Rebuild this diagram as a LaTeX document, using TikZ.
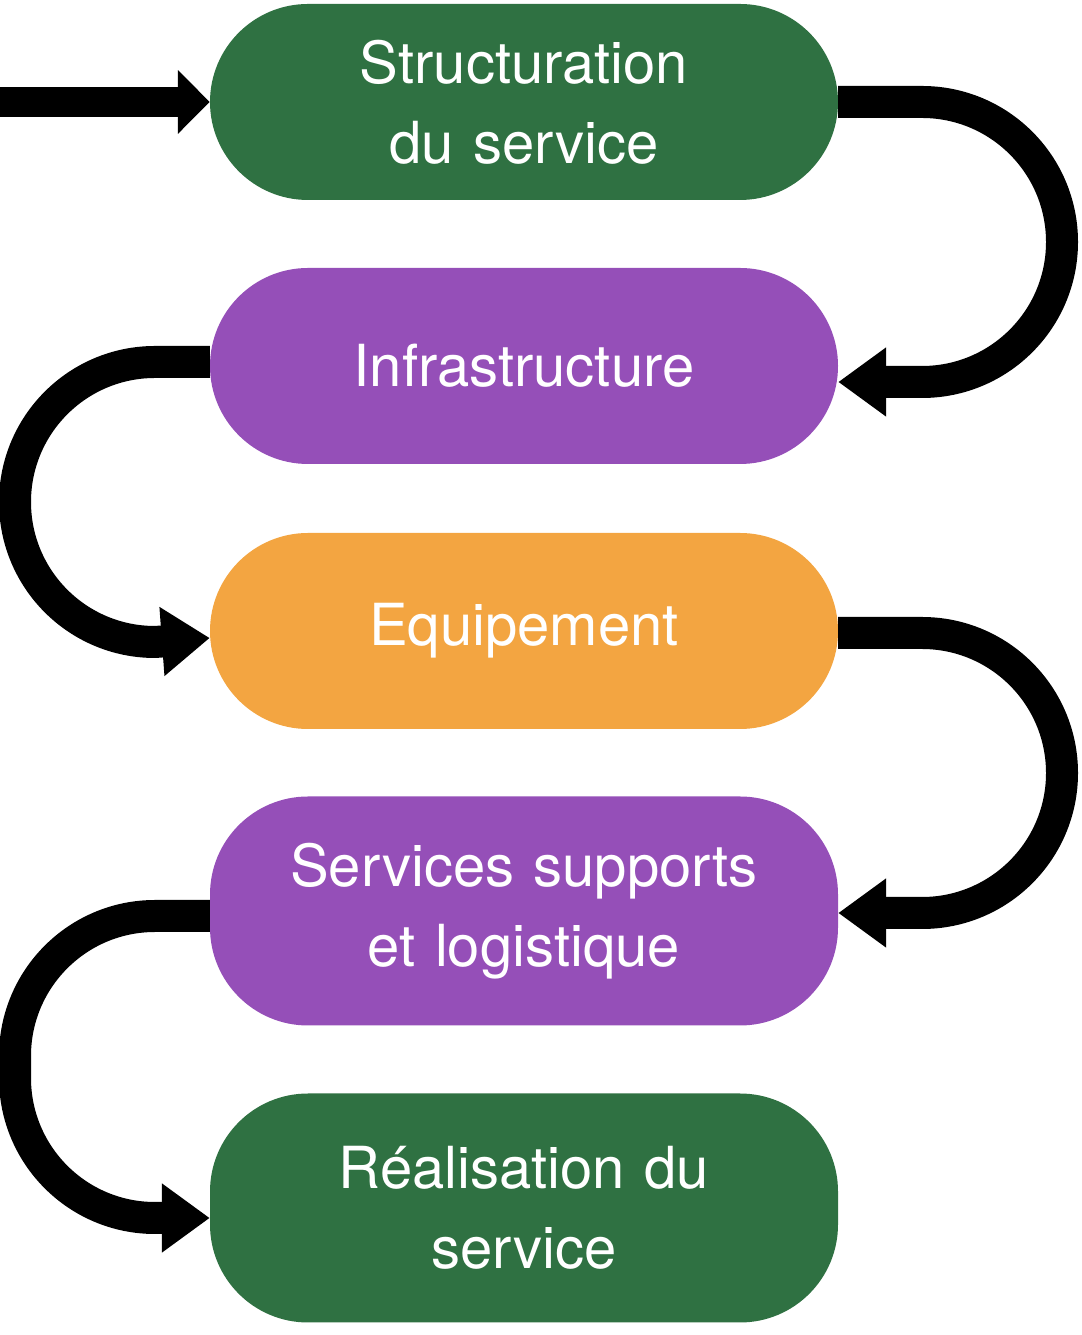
\documentclass[tikz,border=0pt]{standalone}
\usepackage{fontspec}
\setmainfont{TeX Gyre Heros}
\usetikzlibrary{arrows.meta}
\definecolor{cg}{HTML}{2F7142}
\definecolor{cp}{HTML}{954FB8}
\definecolor{co}{HTML}{F3A541}
\begin{document}
\begin{tikzpicture}[x=1pt,y=1pt,
  box/.style={rounded corners=98pt,minimum width=628pt,text width=600pt,align=center,text=white,inner sep=0pt,
    font=\fontsize{58}{80}\selectfont},
  arr/.style={line width=32pt,-{Triangle[length=48pt,width=66pt]}}]
\useasboundingbox (0,0) rectangle (1081,1335);
\node[box,fill=cg,minimum height=196pt] (n1) at (524,1233) {Structuration\\du service};
\node[box,fill=cp,minimum height=196pt] (n2) at (524,969) {Infrastructure};
\node[box,fill=co,minimum height=196pt] (n3) at (524,704) {Equipement};
\node[box,fill=cp,minimum height=229pt] (n4) at (524,424) {Services supports\\et logistique};
\node[box,fill=cg,minimum height=229pt] (n5) at (524,127) {Réalisation du\\service};
\coordinate (s) at (0,1233);
\draw[line width=30pt,-{Triangle[length=32pt,width=62pt]}] (s) -- (n1.west);
\draw[arr] (n1.east) -- (922,1233) arc (90:-90:140) -- ([yshift=-16pt]n2.east);
\draw[arr] ([yshift=4pt]n2.west) -- (155,973) arc (90:270:140) -- ([yshift=-7pt]n3.west);
\draw[arr] ([yshift=-2pt]n3.east) -- (922,702) arc (90:-90:140) -- ([yshift=-2pt]n4.east);
\draw[arr] ([yshift=-5pt]n4.west) -- (155,419) arc (90:180:140) -- (15,257) arc (180:270:140) -- ([yshift=-10pt]n5.west);
\end{tikzpicture}
\end{document}
